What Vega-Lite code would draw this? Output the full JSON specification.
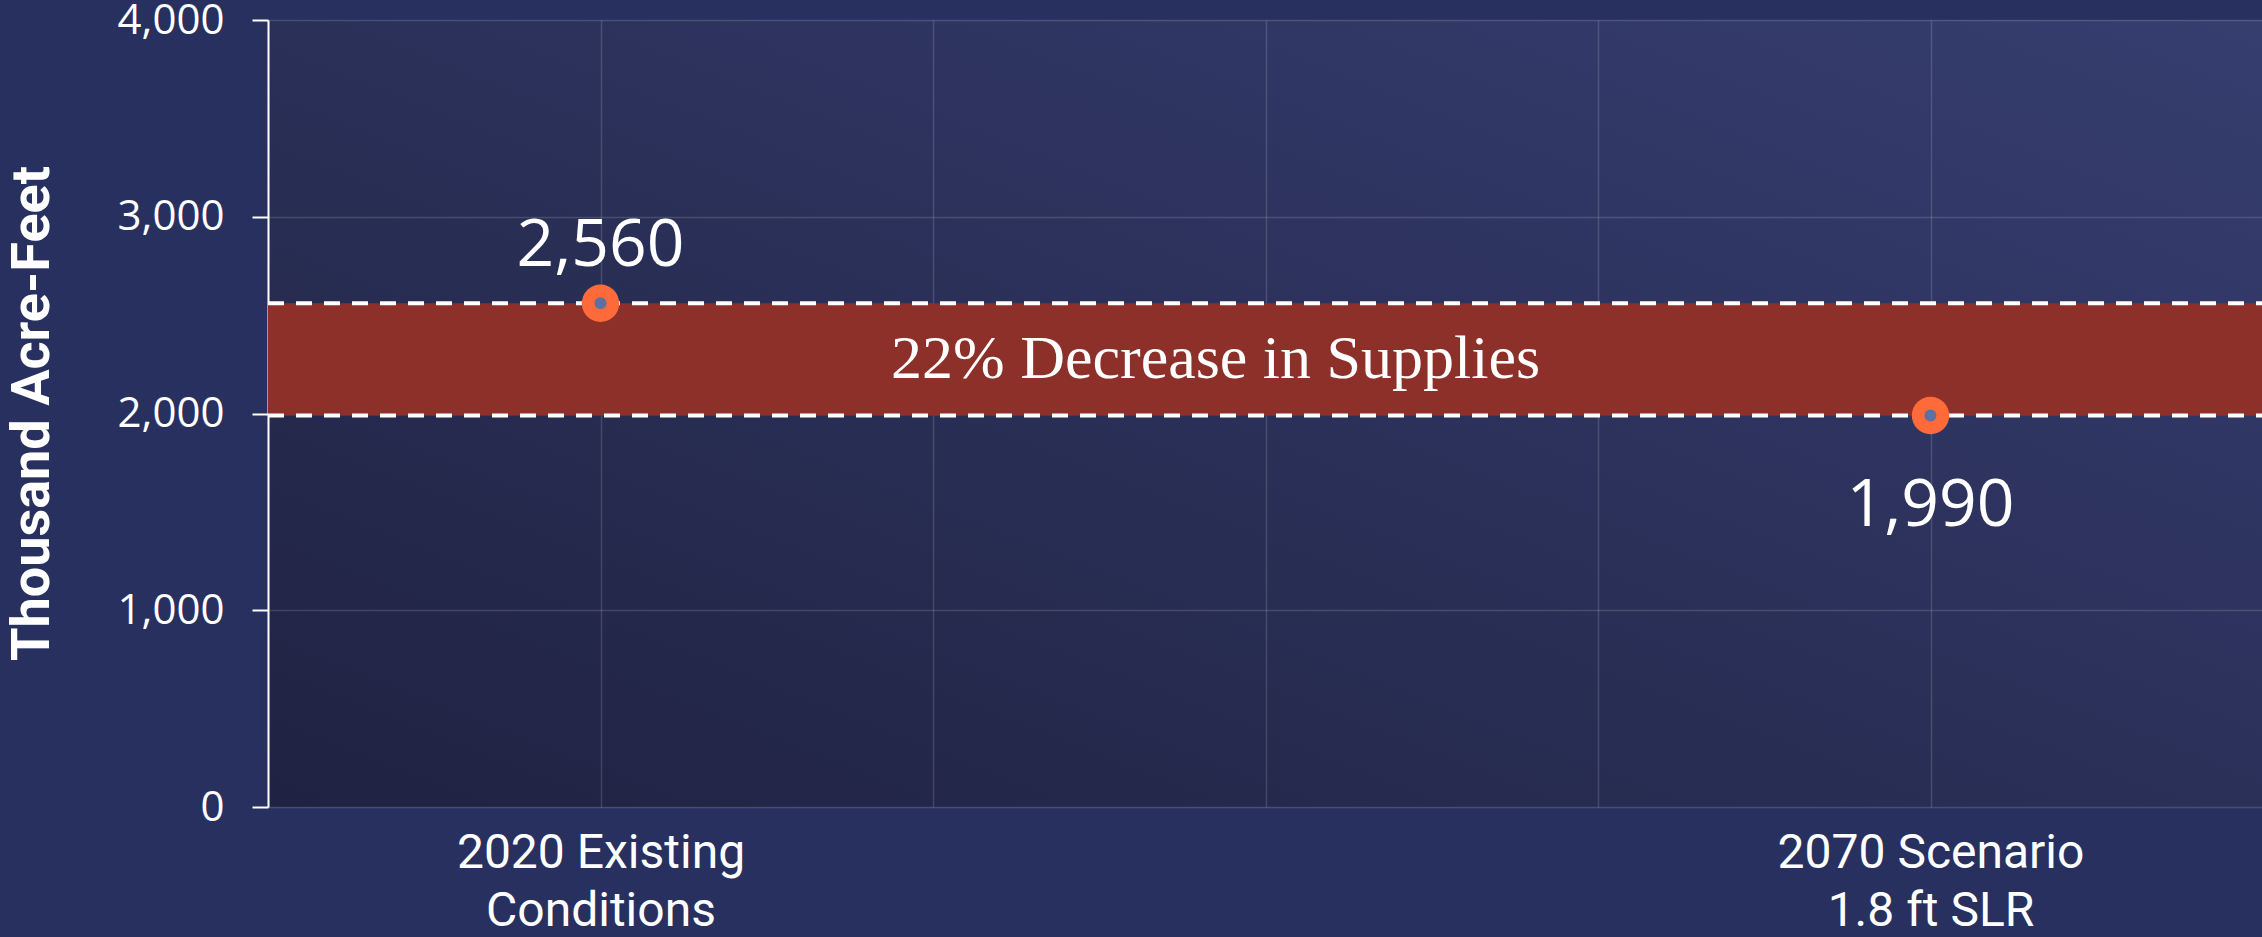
{
  "$schema": "https://vega.github.io/schema/vega-lite/v6.json",
  "width": 1995,
  "height": 787,
  "autosize": {"type": "none"},
  "padding": {"left": 268, "top": 20, "right": 0, "bottom": 130},
  "background": "#283060",
  "config": {
    "view": {
      "stroke": null,
      "fill": {
        "gradient": "linear",
        "x1": 0, "y1": 1, "x2": 1, "y2": 0,
        "stops": [
          {"offset": 0, "color": "#1f2241"},
          {"offset": 1, "color": "#363e70"}
        ]
      }
    },
    "axis": {
      "gridColor": "#ffffff",
      "gridOpacity": 0.14,
      "gridWidth": 1.5
    }
  },
  "datasets": {
    "points": [
      {"scenario": "2020 Existing Conditions", "pos": 1, "value": 2560},
      {"scenario": "2070 Scenario 1.8 ft SLR", "pos": 5, "value": 1990}
    ],
    "band": [
      {"low": 1990, "high": 2560, "note": "22% Decrease in Supplies", "pos": 2.85, "mid": 2275}
    ]
  },
  "layer": [
    {
      "data": {"name": "band"},
      "mark": {"type": "rect", "color": "#8c3029"},
      "encoding": {
        "x": {
          "datum": 0,
          "type": "quantitative",
          "scale": {"domain": [0, 6], "nice": false, "zero": false},
          "axis": {
            "values": [0, 1, 2, 3, 4, 5, 6],
            "grid": true,
            "domain": false,
            "ticks": false,
            "title": null,
            "labelExpr": "datum.value == 1 ? ['2020 Existing', 'Conditions'] : datum.value == 5 ? ['2070 Scenario', '1.8 ft SLR'] : ''",
            "labelFont": "Roboto",
            "labelFontSize": 48,
            "labelLineHeight": 58,
            "labelColor": "#ffffff",
            "labelPadding": 22,
            "labelBaseline": "top",
            "labelAlign": "center",
            "labelLimit": 0,
            "labelFlush": false,
            "labelOverlap": false,
            "encode": {
              "labels": {
                "update": {
                  "dx": {"signal": "datum.value == 1 ? -17 : 0"}
                }
              }
            }
          }
        },
        "x2": {"datum": 6},
        "y": {
          "field": "low",
          "type": "quantitative",
          "title": "Thousand Acre-Feet",
          "scale": {"domain": [0, 4000], "nice": false},
          "axis": {
            "values": [0, 1000, 2000, 3000, 4000],
            "format": ",d",
            "grid": true,
            "domain": true,
            "domainColor": "#ffffff",
            "domainWidth": 2,
            "ticks": true,
            "tickColor": "#ffffff",
            "tickWidth": 2,
            "tickSize": 16,
            "labelFont": "Open Sans",
            "labelFontSize": 42,
            "labelColor": "#ffffff",
            "labelPadding": 28,
            "labelFlush": false,
            "labelOverlap": false,
            "titleFont": "Roboto",
            "titleFontWeight": "bold",
            "titleFontSize": 54,
            "titleColor": "#ffffff",
            "titleAngle": -90,
            "titleBaseline": "alphabetic",
            "titleAlign": "center",
            "titleLimit": 0,
            "titleX": -220,
            "titleY": 393
          }
        },
        "y2": {"field": "high"}
      }
    },
    {
      "data": {"name": "points"},
      "mark": {"type": "rule", "color": "#ffffff", "strokeWidth": 4, "strokeDash": [16, 12]},
      "encoding": {
        "x": {"datum": 0, "type": "quantitative"},
        "x2": {"datum": 6},
        "y": {"field": "value", "type": "quantitative", "title": "Thousand Acre-Feet"}
      }
    },
    {
      "data": {"name": "points"},
      "mark": {"type": "point", "shape": "circle", "filled": true, "size": 1400, "color": "#ff6a3a", "opacity": 1},
      "encoding": {
        "x": {"field": "pos", "type": "quantitative"},
        "y": {"field": "value", "type": "quantitative", "title": "Thousand Acre-Feet"}
      }
    },
    {
      "data": {"name": "points"},
      "mark": {"type": "point", "shape": "circle", "filled": true, "size": 144, "color": "#5d70a0", "opacity": 1},
      "encoding": {
        "x": {"field": "pos", "type": "quantitative"},
        "y": {"field": "value", "type": "quantitative", "title": "Thousand Acre-Feet"}
      }
    },
    {
      "data": {"name": "points"},
      "transform": [{"filter": "datum.pos == 1"}],
      "mark": {"type": "text", "font": "Open Sans", "fontSize": 66, "color": "#ffffff", "baseline": "alphabetic", "align": "center", "dy": -37},
      "encoding": {
        "x": {"field": "pos", "type": "quantitative"},
        "y": {"field": "value", "type": "quantitative", "title": "Thousand Acre-Feet"},
        "text": {"field": "value", "type": "quantitative", "format": ",d"}
      }
    },
    {
      "data": {"name": "points"},
      "transform": [{"filter": "datum.pos == 5"}],
      "mark": {"type": "text", "font": "Open Sans", "fontSize": 66, "color": "#ffffff", "baseline": "alphabetic", "align": "center", "dy": 111},
      "encoding": {
        "x": {"field": "pos", "type": "quantitative"},
        "y": {"field": "value", "type": "quantitative", "title": "Thousand Acre-Feet"},
        "text": {"field": "value", "type": "quantitative", "format": ",d"}
      }
    },
    {
      "data": {"name": "band"},
      "mark": {"type": "text", "font": "Liberation Serif", "fontSize": 62, "color": "#ffffff", "baseline": "middle", "align": "center"},
      "encoding": {
        "x": {"field": "pos", "type": "quantitative"},
        "y": {"field": "mid", "type": "quantitative", "title": "Thousand Acre-Feet"},
        "text": {"field": "note"}
      }
    }
  ]
}
